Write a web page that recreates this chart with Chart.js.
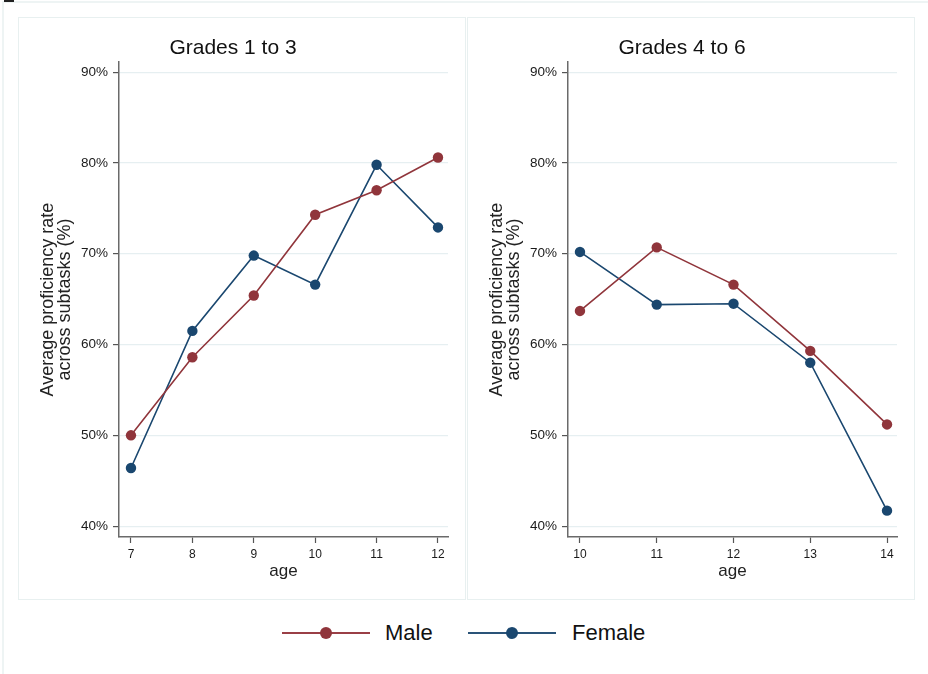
<!DOCTYPE html>
<html>
<head>
<meta charset="utf-8">
<script src="https://cdn.jsdelivr.net/npm/chart.js@4.4.1/dist/chart.umd.min.js"></script>
<style>
  html, body { margin: 0; padding: 0; background: #fff; }
  body { width: 928px; height: 674px; position: relative; overflow: hidden; font-family: "Liberation Sans", Arial, sans-serif; }
  .frame-top { position: absolute; left: 3px; top: 1px; width: 925px; height: 2px; background: #eef4f4; }
  .frame-left { position: absolute; left: 2px; top: 1px; width: 2px; height: 673px; background: #eef4f4; }
  .corner { position: absolute; left: 4px; top: 0; width: 10px; height: 2px; background: #222; }
  .panel { position: absolute; top: 17px; width: 448px; height: 583px; }
  .panel .edge { position: absolute; inset: 0; border: 1.5px solid #e8f0f0; pointer-events: none; }
  #p1 { left: 18px; }
  #p2 { left: 467px; }
  .legend-item { position: absolute; top: 621px; height: 24px; }
  .legend-line { position: absolute; top: 11px; width: 88px; height: 2px; }
  .legend-dot { position: absolute; top: 6px; left: 38px; width: 12px; height: 12px; border-radius: 50%; }
  .legend-text { position: absolute; top: 0; font-size: 22px; line-height: 24px; color: #111; white-space: nowrap; }
</style>
</head>
<body>
<div class="frame-top"></div>
<div class="frame-left"></div>
<div class="corner"></div>

<div class="panel" id="p1"><canvas id="lower" width="448" height="583"></canvas><div class="edge"></div></div>
<div class="panel" id="p2"><canvas id="upper" width="448" height="583"></canvas><div class="edge"></div></div>

<div class="legend-item" style="left:282px">
  <div class="legend-line" style="background:#9a3f46"></div>
  <div class="legend-dot" style="background:#90353b"></div>
  <div class="legend-text" style="left:103px">Male</div>
</div>
<div class="legend-item" style="left:468px">
  <div class="legend-line" style="background:#2a5378"></div>
  <div class="legend-dot" style="background:#1a476f"></div>
  <div class="legend-text" style="left:104px">Female</div>
</div>

<script>
// average proficiency (%) by age, grades 1-3
const agesLower = [7, 8, 9, 10, 11, 12];
const maleLower = [50.0, 58.6, 65.4, 74.3, 77.0, 80.6];
const femaleLower = [46.4, 61.5, 69.8, 66.6, 79.8, 72.9];

// grades 4-6
const agesUpper = [10, 11, 12, 13, 14];
const maleUpper = [63.7, 70.7, 66.6, 59.3, 51.2];
const femaleUpper = [70.2, 64.4, 64.5, 58.0, 41.7];

const yTicks = [40, 50, 60, 70, 80, 90];

const MALE = '#90353b';
const FEMALE = '#1a476f';
const FONT = "'Liberation Sans', Arial, sans-serif";

function series(ages, vals) {
    return ages.map((a, i) => ({ x: a, y: vals[i] }));
}

function makePanel(id, title, ages, male, female, xMin, xMax) {
    const lineSet = (label, vals, color) => ({
        label: label,
        data: series(ages, vals),
        borderColor: color,
        backgroundColor: color,
        borderWidth: 1.6,
        pointRadius: 5.2,
        pointBorderWidth: 0,
        pointBackgroundColor: color,
        tension: 0,
        clip: false,
    });

    new Chart(document.getElementById(id), {
        type: 'line',
        data: {
            datasets: [
                lineSet('Male', male, MALE),
                lineSet('Female', female, FEMALE),
            ]
        },
        options: {
            responsive: false,
            animation: false,
            devicePixelRatio: 1,
            layout: { padding: { left: 0, right: 18, top: 0, bottom: 0 } },
            scales: {
                x: {
                    type: 'linear',
                    min: xMin,
                    max: xMax,
                    afterBuildTicks: scale => { scale.ticks = ages.map(v => ({ value: v })); },
                    afterFit: scale => { scale.height = 63; },
                    ticks: {
                        color: '#1a1a1a',
                        font: { family: FONT, size: 12 },
                        padding: 4,
                        maxRotation: 0,
                    },
                    grid: {
                        drawOnChartArea: false,
                        drawTicks: true,
                        tickLength: 6,
                        tickColor: '#555',
                        tickWidth: 1.2,
                    },
                    border: { display: true, color: '#6a6a6a', width: 1.5 },
                    title: {
                        display: true,
                        text: 'age',
                        color: '#222',
                        font: { family: FONT, size: 17, lineHeight: 1.2 },
                        padding: { top: 0, bottom: 18 },
                    },
                },
                y: {
                    min: 38.8,
                    max: 91.1,
                    afterBuildTicks: scale => { scale.ticks = yTicks.map(v => ({ value: v })); },
                    afterFit: scale => { scale.width = 101; },
                    ticks: {
                        color: '#1a1a1a',
                        font: { family: FONT, size: 13.5 },
                        padding: 5,
                        callback: v => v + '%',
                    },
                    grid: {
                        color: '#e6eff1',
                        lineWidth: 1.2,
                        tickLength: 6,
                        tickColor: '#555',
                        tickWidth: 1.2,
                    },
                    border: { display: true, color: '#6a6a6a', width: 1.5 },
                    title: {
                        display: true,
                        text: ['Average proficiency rate', 'across subtasks (%)'],
                        color: '#222',
                        font: { family: FONT, size: 18, lineHeight: 0.93 },
                        padding: { top: 22, bottom: 0 },
                    },
                },
            },
            plugins: {
                legend: { display: false },
                tooltip: { enabled: false },
                title: {
                    display: true,
                    text: title,
                    color: '#111',
                    font: { family: FONT, size: 21, weight: 'normal', lineHeight: 1.2 },
                    padding: { top: 19, bottom: 1 },
                },
            },
        },
    });
}

makePanel('lower', 'Grades 1 to 3', agesLower, maleLower, femaleLower, 6.805, 12.163);
makePanel('upper', 'Grades 4 to 6', agesUpper, maleUpper, femaleUpper, 9.844, 14.13);
</script>
</body>
</html>
